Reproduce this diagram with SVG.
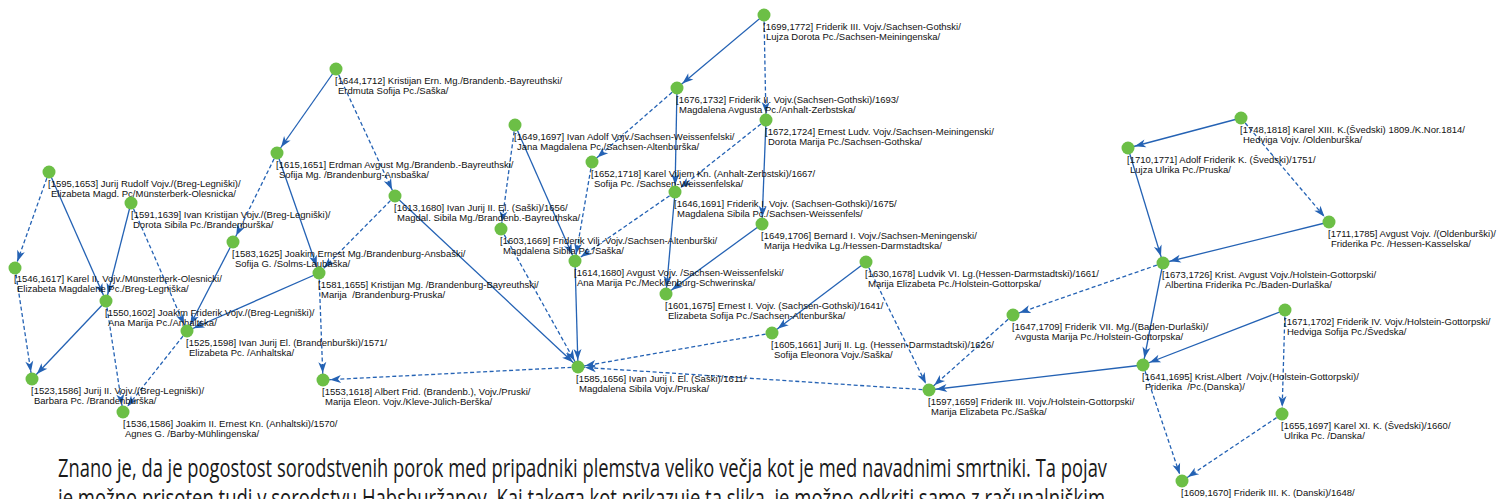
<svg xmlns="http://www.w3.org/2000/svg" width="1497" height="499" viewBox="0 0 1497 499">
<style>
.e{fill:none;stroke:#2462b4;stroke-width:1.3;marker-end:url(#ah)}
.d{stroke-dasharray:4 2.5}
.n circle{fill:#6cbf46}
.n text{font-family:"Liberation Sans",Arial,sans-serif;font-size:9.5px;fill:#111;white-space:pre}
.p{font-family:"Open Sans","Liberation Sans",sans-serif;font-size:25px;fill:#1a1a1a}
</style>
<defs>
<marker id="ah" markerUnits="userSpaceOnUse" markerWidth="12" markerHeight="9" refX="18" refY="4" orient="auto" overflow="visible">
<path d="M0,0 L11,4 L0,8 L3,4 Z" fill="#2462b4"/>
</marker>
</defs>
<rect width="1497" height="499" fill="#fff"/>
<g id="connectors">
<line class="e d" x1="49" y1="172" x2="15" y2="268"/>
<line class="e" x1="49" y1="172" x2="106" y2="301"/>
<line class="e" x1="131" y1="203" x2="106" y2="301"/>
<line class="e d" x1="131" y1="203" x2="187" y2="331"/>
<line class="e" x1="233" y1="242" x2="187" y2="331"/>
<line class="e" x1="319" y1="273" x2="187" y2="331"/>
<line class="e" x1="106" y1="301" x2="32" y2="379"/>
<line class="e d" x1="15" y1="268" x2="32" y2="379"/>
<line class="e d" x1="106" y1="301" x2="123" y2="412"/>
<line class="e d" x1="187" y1="331" x2="123" y2="412"/>
<line class="e d" x1="319" y1="273" x2="323" y2="380"/>
<line class="e d" x1="578" y1="367" x2="323" y2="380"/>
<line class="e d" x1="277" y1="153" x2="233" y2="242"/>
<line class="e" x1="277" y1="153" x2="319" y2="273"/>
<line class="e" x1="336" y1="69" x2="277" y2="153"/>
<line class="e d" x1="336" y1="69" x2="395" y2="196"/>
<line class="e" x1="395" y1="196" x2="578" y2="367"/>
<line class="e d" x1="395" y1="196" x2="319" y2="273"/>
<line class="e d" x1="515" y1="125" x2="501" y2="229"/>
<line class="e" x1="515" y1="125" x2="575" y2="261"/>
<line class="e d" x1="592" y1="162" x2="575" y2="261"/>
<line class="e d" x1="675" y1="192" x2="575" y2="261"/>
<line class="e" x1="675" y1="192" x2="666" y2="294"/>
<line class="e" x1="677" y1="88" x2="675" y2="192"/>
<line class="e d" x1="677" y1="88" x2="592" y2="162"/>
<line class="e" x1="764" y1="15" x2="677" y2="88"/>
<line class="e d" x1="764" y1="15" x2="766" y2="120"/>
<line class="e d" x1="766" y1="120" x2="675" y2="192"/>
<line class="e" x1="766" y1="120" x2="762" y2="224"/>
<line class="e" x1="762" y1="224" x2="666" y2="294"/>
<line class="e" x1="866" y1="262" x2="772" y2="333"/>
<line class="e d" x1="772" y1="333" x2="578" y2="367"/>
<line class="e d" x1="866" y1="262" x2="929" y2="390"/>
<line class="e d" x1="929" y1="390" x2="578" y2="367"/>
<line class="e" x1="1143" y1="365" x2="929" y2="390"/>
<line class="e d" x1="1013" y1="315" x2="929" y2="390"/>
<line class="e d" x1="1163" y1="263" x2="1013" y2="315"/>
<line class="e" x1="1163" y1="263" x2="1143" y2="365"/>
<line class="e" x1="1128" y1="148" x2="1163" y2="263"/>
<line class="e" x1="1241" y1="118" x2="1128" y2="148"/>
<line class="e d" x1="1241" y1="118" x2="1329" y2="222"/>
<line class="e" x1="1329" y1="222" x2="1163" y2="263"/>
<line class="e" x1="1285" y1="310" x2="1143" y2="365"/>
<line class="e d" x1="1285" y1="310" x2="1282" y2="414"/>
<line class="e d" x1="1143" y1="365" x2="1182" y2="481"/>
<line class="e d" x1="1282" y1="414" x2="1182" y2="481"/>
<line class="e d" x1="501" y1="229" x2="578" y2="367"/>
<line class="e" x1="575" y1="261" x2="578" y2="367"/>
</g>
<g id="n1" class="n"><circle cx="764" cy="15" r="6.5"/><text x="763" y="30">[1699,1772] Friderik III. Vojv./Sachsen-Gothski/<tspan x="766" y="40">Lujza Dorota Pc./Sachsen-Meiningenska/</tspan></text></g>
<g id="n2" class="n"><circle cx="336" cy="69" r="6.5"/><text x="335" y="84">[1644,1712] Kristijan Ern. Mg./Brandenb.-Bayreuthski/<tspan x="338" y="94">Erdmuta Sofija Pc./Saška/</tspan></text></g>
<g id="n3" class="n"><circle cx="677" cy="88" r="6.5"/><text x="676" y="103">[1676,1732] Friderik II. Vojv.(Sachsen-Gothski)/1693/<tspan x="679" y="113">Magdalena Avgusta Pc./Anhalt-Zerbstska/</tspan></text></g>
<g id="n4" class="n"><circle cx="766" cy="120" r="6.5"/><text x="765" y="135">[1672,1724] Ernest Ludv. Vojv./Sachsen-Meiningenski/<tspan x="768" y="145">Dorota Marija Pc./Sachsen-Gothska/</tspan></text></g>
<g id="n5" class="n"><circle cx="1241" cy="118" r="6.5"/><text x="1240" y="133">[1748,1818] Karel XIII. K.(Švedski) 1809./K.Nor.1814/<tspan x="1243" y="143">Hedviga Vojv. /Oldenburška/</tspan></text></g>
<g id="n6" class="n"><circle cx="515" cy="125" r="6.5"/><text x="514" y="140">[1649,1697] Ivan Adolf Vojv./Sachsen-Weissenfelski/<tspan x="517" y="150">Jana Magdalena Pc./Sachsen-Altenburška/</tspan></text></g>
<g id="n7" class="n"><circle cx="1128" cy="148" r="6.5"/><text x="1127" y="163">[1710,1771] Adolf Friderik K. (Švedski)/1751/<tspan x="1130" y="173">Lujza Ulrika Pc./Pruska/</tspan></text></g>
<g id="n8" class="n"><circle cx="277" cy="153" r="6.5"/><text x="276" y="168">[1615,1651] Erdman Avgust Mg./Brandenb.-Bayreuthski/<tspan x="279" y="178">Sofija Mg. /Brandenburg-Ansbaška/</tspan></text></g>
<g id="n9" class="n"><circle cx="592" cy="162" r="6.5"/><text x="591" y="177">[1652,1718] Karel Viljem Kn. (Anhalt-Zerbstski)/1667/<tspan x="594" y="187">Sofija Pc. /Sachsen-Weissenfelska/</tspan></text></g>
<g id="n10" class="n"><circle cx="49" cy="172" r="6.5"/><text x="48" y="187">[1595,1653] Jurij Rudolf Vojv./(Breg-Legniški)/<tspan x="51" y="197">Elizabeta Magd. Pc/Münsterberk-Olesnicka/</tspan></text></g>
<g id="n11" class="n"><circle cx="675" cy="192" r="6.5"/><text x="674" y="207">[1646,1691] Friderik I. Vojv. (Sachsen-Gothski)/1675/<tspan x="677" y="217">Magdalena Sibila Pc./Sachsen-Weissenfels/</tspan></text></g>
<g id="n12" class="n"><circle cx="395" cy="196" r="6.5"/><text x="394" y="211">[1613,1680] Ivan Jurij II. El. (Saški)/1656/<tspan x="397" y="221">Magdal. Sibila Mg./Brandenb.-Bayreuthska/</tspan></text></g>
<g id="n13" class="n"><circle cx="131" cy="203" r="6.5"/><text x="131" y="218">[1591,1639] Ivan Kristijan Vojv./(Breg-Legniški)/<tspan x="133" y="228">Dorota Sibila Pc./Brandenburška/</tspan></text></g>
<g id="n14" class="n"><circle cx="1329" cy="222" r="6.5"/><text x="1328" y="237">[1711,1785] Avgust Vojv. /(Oldenburški)/<tspan x="1331" y="247">Friderika Pc. /Hessen-Kasselska/</tspan></text></g>
<g id="n15" class="n"><circle cx="762" cy="224" r="6.5"/><text x="761" y="239">[1649,1706] Bernard I. Vojv./Sachsen-Meningenski/<tspan x="764" y="249">Marija Hedvika Lg./Hessen-Darmstadtska/</tspan></text></g>
<g id="n16" class="n"><circle cx="501" cy="229" r="6.5"/><text x="500" y="244">[1603,1669] Friderik Vilj. Vojv./Sachsen-Altenburški/<tspan x="503" y="254">Magdalena Sibila Pc./Saška/</tspan></text></g>
<g id="n17" class="n"><circle cx="233" cy="242" r="6.5"/><text x="232" y="257">[1583,1625] Joakim Ernest Mg./Brandenburg-Ansbaški/<tspan x="235" y="267">Sofija G. /Solms-Laubaška/</tspan></text></g>
<g id="n18" class="n"><circle cx="866" cy="262" r="6.5"/><text x="865" y="277">[1630,1678] Ludvik VI. Lg.(Hessen-Darmstadtski)/1661/<tspan x="868" y="287">Marija Elizabeta Pc./Holstein-Gottorpska/</tspan></text></g>
<g id="n19" class="n"><circle cx="575" cy="261" r="6.5"/><text x="574" y="276">[1614,1680] Avgust Vojv. /Sachsen-Weissenfelski/<tspan x="577" y="286">Ana Marija Pc./Mecklenburg-Schwerinska/</tspan></text></g>
<g id="n20" class="n"><circle cx="1163" cy="263" r="6.5"/><text x="1162" y="278">[1673,1726] Krist. Avgust Vojv./Holstein-Gottorpski/<tspan x="1165" y="288">Albertina Friderika Pc./Baden-Durlaška/</tspan></text></g>
<g id="n21" class="n"><circle cx="15" cy="268" r="6.5"/><text x="14" y="282">[1546,1617] Karel II. Vojv./Münsterberk-Olesnicki/<tspan x="17" y="292">Elizabeta Magdalene Pc./Breg-Legniška/</tspan></text></g>
<g id="n22" class="n"><circle cx="319" cy="273" r="6.5"/><text x="318" y="288">[1581,1655] Kristijan Mg. /Brandenburg-Bayreuthski/<tspan x="321" y="298">Marija  /Brandenburg-Pruska/</tspan></text></g>
<g id="n23" class="n"><circle cx="666" cy="294" r="6.5"/><text x="665" y="309">[1601,1675] Ernest I. Vojv. (Sachsen-Gothski)/1641/<tspan x="668" y="319">Elizabeta Sofija Pc./Sachsen-Altenburška/</tspan></text></g>
<g id="n24" class="n"><circle cx="106" cy="301" r="6.5"/><text x="105" y="316">[1550,1602] Joakim Friderik Vojv./(Breg-Legniški)/<tspan x="108" y="326">Ana Marija Pc./Anhaltska/</tspan></text></g>
<g id="n25" class="n"><circle cx="1285" cy="310" r="6.5"/><text x="1284" y="325">[1671,1702] Friderik IV. Vojv./Holstein-Gottorpski/<tspan x="1287" y="335">Hedviga Sofija Pc./Švedska/</tspan></text></g>
<g id="n26" class="n"><circle cx="1013" cy="315" r="6.5"/><text x="1012" y="330">[1647,1709] Friderik VII. Mg./(Baden-Durlaški)/<tspan x="1015" y="340">Avgusta Marija Pc./Holstein-Gottorpska/</tspan></text></g>
<g id="n27" class="n"><circle cx="187" cy="331" r="6.5"/><text x="186" y="346">[1525,1598] Ivan Jurij El. (Brandenburški)/1571/<tspan x="189" y="356">Elizabeta Pc. /Anhaltska/</tspan></text></g>
<g id="n28" class="n"><circle cx="772" cy="333" r="6.5"/><text x="771" y="348">[1605,1661] Jurij II. Lg. (Hessen-Darmstadtski)/1626/<tspan x="774" y="358">Sofija Eleonora Vojv./Saška/</tspan></text></g>
<g id="n29" class="n"><circle cx="1143" cy="365" r="6.5"/><text x="1142" y="380">[1641,1695] Krist.Albert  /Vojv.(Holstein-Gottorpski)/<tspan x="1145" y="390">Friderika  /Pc.(Danska)/</tspan></text></g>
<g id="n30" class="n"><circle cx="578" cy="367" r="6.5"/><text x="576" y="382">[1585,1656] Ivan Jurij I. El. (Saški)/1611/<tspan x="579" y="392">Magdalena Sibila Vojv./Pruska/</tspan></text></g>
<g id="n31" class="n"><circle cx="323" cy="380" r="6.5"/><text x="322" y="395">[1553,1618] Albert Frid. (Brandenb.), Vojv./Pruski/<tspan x="325" y="405">Marija Eleon. Vojv./Kleve-Jülich-Berška/</tspan></text></g>
<g id="n32" class="n"><circle cx="32" cy="379" r="6.5"/><text x="31" y="394">[1523,1586] Jurij II. Vojv./(Breg-Legniški)/<tspan x="34" y="404">Barbara Pc. /Brandenburška/</tspan></text></g>
<g id="n33" class="n"><circle cx="929" cy="390" r="6.5"/><text x="928" y="405">[1597,1659] Friderik III. Vojv./Holstein-Gottorpski/<tspan x="931" y="415">Marija Elizabeta Pc./Saška/</tspan></text></g>
<g id="n34" class="n"><circle cx="123" cy="412" r="6.5"/><text x="123" y="427">[1536,1586] Joakim II. Ernest Kn. (Anhaltski)/1570/<tspan x="125" y="437">Agnes G. /Barby-Mühlingenska/</tspan></text></g>
<g id="n35" class="n"><circle cx="1282" cy="414" r="6.5"/><text x="1281" y="429">[1655,1697] Karel XI. K. (Švedski)/1660/<tspan x="1284" y="439">Ulrika Pc. /Danska/</tspan></text></g>
<g id="n36" class="n"><circle cx="1182" cy="481" r="6.5"/><text x="1181" y="496">[1609,1670] Friderik III. K. (Danski)/1648/</text></g>
<g id="paragraph">
<text class="p" x="58" y="477" textLength="1049" lengthAdjust="spacingAndGlyphs">Znano je, da je pogostost sorodstvenih porok med pripadniki plemstva veliko večja kot je med navadnimi smrtniki. Ta pojav</text>
<text class="p" x="58" y="507" textLength="1047" lengthAdjust="spacingAndGlyphs">je možno prisoten tudi v sorodstvu Habsburžanov. Kaj takega kot prikazuje ta slika, je možno odkriti samo z računalniškim</text>
</g>
</svg>
